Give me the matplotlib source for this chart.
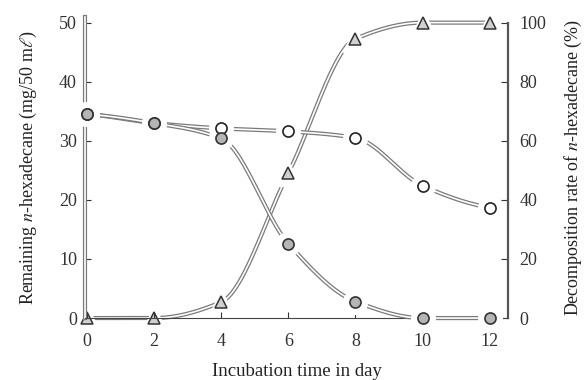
import numpy as np
import matplotlib
matplotlib.use("Agg")
import matplotlib.pyplot as plt
import matplotlib.patheffects as pe

plt.rcParams["font.family"] = ["Liberation Serif", "DejaVu Serif"]
plt.rcParams["mathtext.fontset"] = "stix"

# data
days = [0, 2, 4, 6, 8, 10, 12]
remaining_culture = [34.5, 33.0, 30.4, 12.6, 2.8, 0.0, 0.0]   # shaded circles
remaining_control = [34.5, 33.0, 32.1, 31.6, 30.5, 22.4, 18.7]  # open circles
decomposition_pct = [0.0, 0.0, 5.4, 49.0, 94.5, 100.0, 100.0]  # triangles

x_ticks = [0, 2, 4, 6, 8, 10, 12]
left_ticks = [0, 10, 20, 30, 40, 50]
right_ticks = [0, 20, 40, 60, 80, 100]


def pchip(x, y, n=300):
    # monotone cubic curve through the points, only used for drawing the line
    x = np.asarray(x, float)
    y = np.asarray(y, float)
    h = np.diff(x)
    d = np.diff(y) / h
    m = np.zeros_like(y)
    for k in range(1, len(x) - 1):
        if d[k - 1] * d[k] > 0:
            w1 = 2 * h[k] + h[k - 1]
            w2 = h[k] + 2 * h[k - 1]
            m[k] = (w1 + w2) / (w1 / d[k - 1] + w2 / d[k])
    m[0] = 0.5 * d[0]
    m[-1] = 0.5 * d[-1]
    xs = np.linspace(x[0], x[-1], n)
    idx = np.clip(np.searchsorted(x, xs) - 1, 0, len(x) - 2)
    t = (xs - x[idx]) / h[idx]
    h00 = 2 * t**3 - 3 * t**2 + 1
    h10 = t**3 - 2 * t**2 + t
    h01 = -2 * t**3 + 3 * t**2
    h11 = t**3 - t**2
    ys = h00 * y[idx] + h10 * h[idx] * m[idx] + h01 * y[idx + 1] + h11 * h[idx] * m[idx + 1]
    return xs, ys


hollow = [pe.Stroke(linewidth=3.0, foreground="#7a7a7a"),
          pe.Stroke(linewidth=1.2, foreground="white")]

fig = plt.figure(figsize=(5.84, 3.80), dpi=100)
ax = fig.add_axes([0.146, 0.163, 0.724, 0.793])
ax2 = ax.twinx()
# keep the right axis underneath so the tick labels of the main axes stay visible
ax2.set_zorder(ax.get_zorder() - 1)
ax.patch.set_visible(False)

ax.set_xlim(-0.05, 12.55)
ax.set_ylim(0, 51)
ax2.set_ylim(0, 102)

# curves
for series in (remaining_control, remaining_culture):
    xs, ys = pchip(days, series)
    ax.plot(xs, ys, color="#7a7a7a", lw=1.2, path_effects=hollow, zorder=3,
            solid_capstyle="butt", clip_on=False)
xs, ys = pchip(days, decomposition_pct)
ax2.plot(xs, ys, color="#7a7a7a", lw=1.2, path_effects=hollow, zorder=3,
         solid_capstyle="butt", clip_on=False)

# white halos make the little gaps around every marker
ax.plot(days, remaining_control, "o", ms=17, color="white", mec="white", zorder=4, clip_on=False)
ax.plot(days, remaining_culture, "o", ms=17, color="white", mec="white", zorder=4, clip_on=False)
ax2.plot(days, decomposition_pct, "^", ms=18, color="white", mec="white", zorder=4, clip_on=False)

ax.plot(days, remaining_control, "o", ms=8, mfc="white", mec="#222222", mew=1.2,
        zorder=5, clip_on=False)
ax.plot(days, remaining_culture, "o", ms=8, mfc="#b5b5b5", mec="#333333", mew=1.2,
        zorder=6, clip_on=False)
ax2.plot(days, decomposition_pct, "^", ms=9, mfc="#d0d0d0", mec="#333333", mew=1.1,
         zorder=5, clip_on=False)

# axes styling
for a in (ax, ax2):
    a.spines["top"].set_visible(False)
ax.spines["right"].set_visible(False)
ax2.spines["left"].set_visible(False)
ax2.spines["bottom"].set_visible(False)

ax.spines["left"].set_linewidth(1.2)
ax.spines["left"].set_color("#7a7a7a")
ax.spines["left"].set_path_effects(hollow)
ax.spines["bottom"].set_linewidth(0.8)
ax.spines["bottom"].set_color("#444444")
ax2.spines["right"].set_linewidth(1.6)
ax2.spines["right"].set_color("#555555")
ax2.spines["right"].set_bounds(0, 100)

ax.set_xticks(x_ticks)
ax.set_yticks(left_ticks)
ax2.set_yticks(right_ticks)

ax.tick_params(axis="x", direction="in", length=4, width=0.8, pad=11,
               labelsize=13, colors="#333333")
ax.tick_params(axis="y", direction="in", length=4, width=0.8, pad=6,
               labelsize=13, colors="#333333")
ax2.tick_params(axis="y", direction="in", length=5, width=0.8, pad=8,
                labelsize=13, colors="#333333")

ax.set_xlabel("Incubation time in day", fontsize=13.5, color="#222222", labelpad=9)
ax.set_ylabel("Remaining $n$-hexadecane (mg/50 m$\\ell$)", fontsize=13,
              color="#222222", labelpad=14)
ax2.set_ylabel("Decomposition rate of $n$-hexadecane (%)", fontsize=13,
               color="#222222", labelpad=12)

fig.savefig("out.png", dpi=100)
